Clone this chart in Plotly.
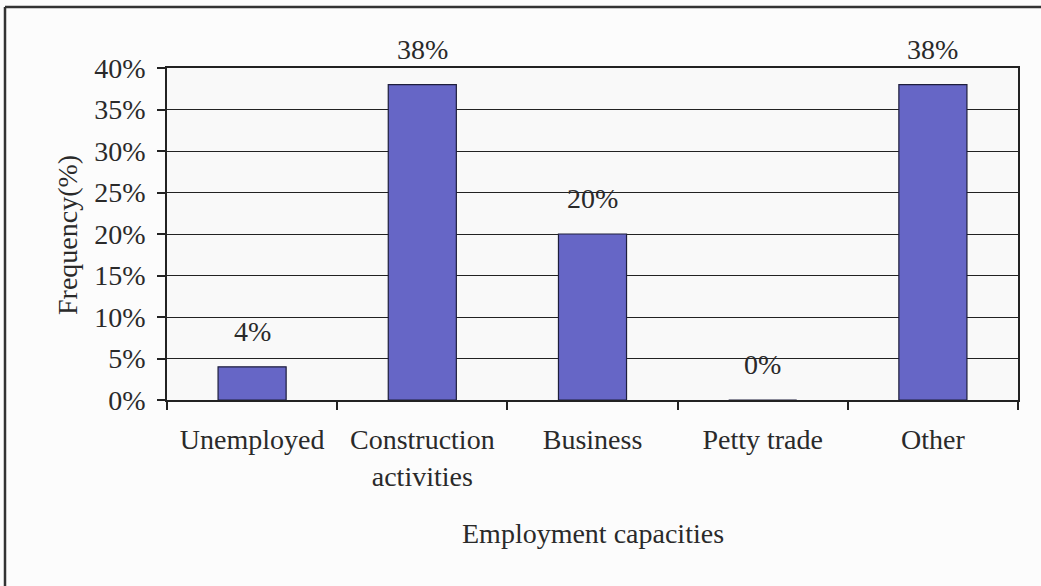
import plotly.graph_objects as go

# Employment capacities survey results
categories = ["Unemployed", "Construction<br>activities", "Business", "Petty trade", "Other"]
frequency = [0.04, 0.38, 0.20, 0.00, 0.38]
value_labels = ["4%", "38%", "20%", "0%", "38%"]
y_ticks = [0, 0.05, 0.10, 0.15, 0.20, 0.25, 0.30, 0.35, 0.40]
y_tick_text = ["0%", "5%", "10%", "15%", "20%", "25%", "30%", "35%", "40%"]

W, H = 1041, 586
ML, MR, MT, MB = 167, 23, 68, 186
FONT = "Liberation Serif"
INK = "#2a2a2a"
FS = 28

fig = go.Figure()
fig.add_trace(go.Bar(
    x=categories,
    y=frequency,
    marker=dict(color="#6666c6", line=dict(color="#1e1e3c", width=1.2)),
    width=0.4,
    hoverinfo="skip",
))

# value labels above each bar
for cat, val, lab in zip(categories, frequency, value_labels):
    fig.add_annotation(
        x=cat, y=val, text=lab, showarrow=False,
        xanchor="center", yanchor="bottom", yshift=18,
        font=dict(family=FONT, size=FS, color=INK),
    )

pw = W - ML - MR
ph = H - MT - MB

# axis titles
fig.add_annotation(
    x=(67 - ML) / pw, y=(H - MB - 235) / ph, xref="paper", yref="paper",
    xanchor="center", yanchor="middle",
    text="Frequency(%)", textangle=-90, showarrow=False,
    font=dict(family=FONT, size=FS, color=INK),
)
fig.add_annotation(
    x=(593 - ML) / pw, y=(H - MB - 533) / ph, xref="paper", yref="paper",
    xanchor="center", yanchor="middle",
    text="Employment capacities", showarrow=False,
    font=dict(family=FONT, size=FS, color=INK),
)

# outer frame (left and top edges)
x0 = (5 - ML) / pw
ytop = (H - MB - 7) / ph
ybot = (H - MB - 586) / ph
fig.add_shape(type="line", xref="paper", yref="paper",
              x0=x0, x1=x0, y0=ybot, y1=ytop,
              line=dict(color="#333333", width=2.5))
fig.add_shape(type="line", xref="paper", yref="paper",
              x0=x0, x1=(1041 - ML) / pw, y0=ytop, y1=ytop,
              line=dict(color="#333333", width=2.5))

fig.update_layout(
    width=W, height=H,
    margin=dict(l=ML, r=MR, t=MT, b=MB),
    paper_bgcolor="#fcfcfc",
    plot_bgcolor="#f9f9f9",
    showlegend=False,
    font=dict(family=FONT, size=FS, color=INK),
    xaxis=dict(
        showline=True, linecolor="#222222", linewidth=1.5, mirror=True,
        ticks="outside", ticklen=8, tickcolor="#222222", tickwidth=1.5,
        tickson="boundaries", showgrid=False,
        tickfont=dict(family=FONT, size=FS, color=INK),
        ticklabelstandoff=14,
    ),
    yaxis=dict(
        range=[0, 0.40], tickvals=y_ticks, ticktext=y_tick_text,
        showline=True, linecolor="#222222", linewidth=1.5, mirror=True,
        ticks="outside", ticklen=8, tickcolor="#222222", tickwidth=1.5,
        showgrid=True, gridcolor="#222222", gridwidth=1.3,
        zeroline=False,
        tickfont=dict(family=FONT, size=FS, color=INK),
        ticklabelstandoff=6,
    ),
)

fig.write_html("out.html")
